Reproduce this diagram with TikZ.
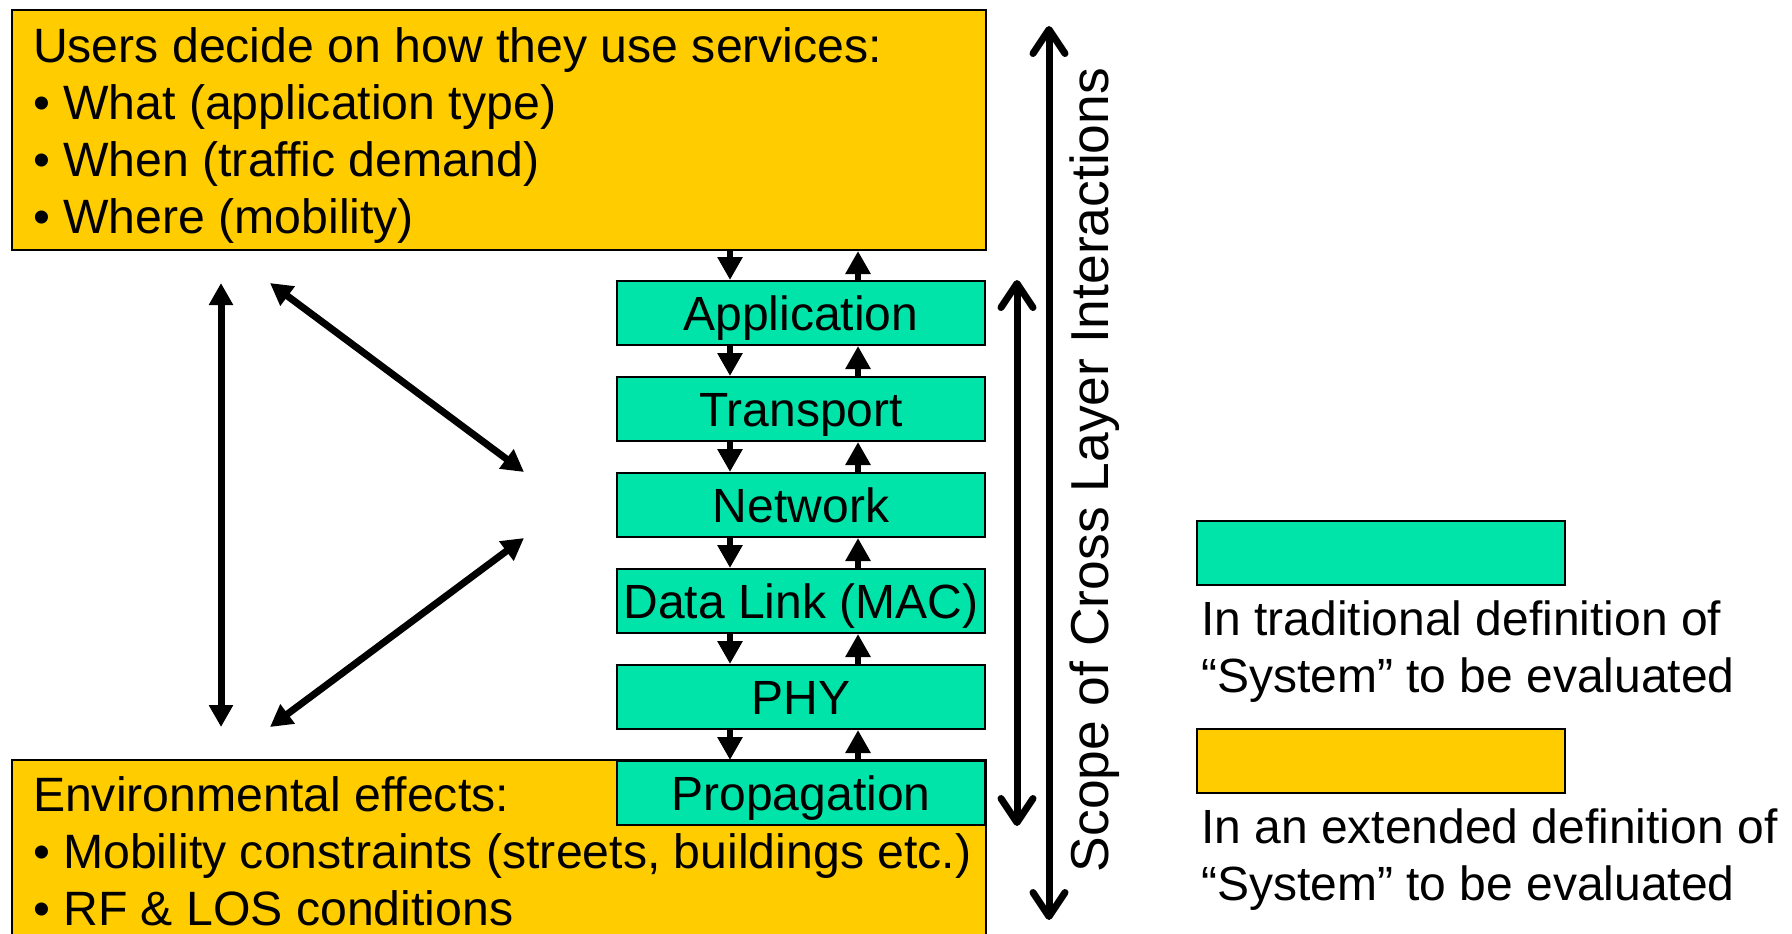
\documentclass[tikz,border=0pt]{standalone}
\usepackage{fontspec}
\setmainfont{Liberation Sans}
\usetikzlibrary{arrows.meta,positioning}
\definecolor{layergreen}{RGB}{0,228,170}
\definecolor{sysyellow}{RGB}{255,204,0}

\begin{document}
\begin{tikzpicture}[x=0.5pt, y=-0.5pt, line width=1pt,
  every node/.style={font=\fontsize{24}{28.5}\selectfont},
  layer/.style={draw, fill=layergreen, minimum width=184pt, minimum height=32pt, inner sep=0pt, text height=17.5pt, text depth=0pt},
  sysbox/.style={draw, fill=sysyellow, anchor=north west, minimum width=487pt, inner sep=0pt},
  systext/.style={anchor=north west, align=left, inner sep=0pt, font=\fontsize{24.1}{28.5}\selectfont},
  flow/.style={line width=3pt, -{Triangle[width=12pt,length=11.5pt]}},
  both/.style={line width=3.5pt, {Triangle[width=11.5pt,length=11pt]}-{Triangle[width=11.5pt,length=11pt]}},
  span/.style={line width=3.5pt, {Straight Barb[round,width=16pt,length=12pt]}-{Straight Barb[round,width=16pt,length=12pt]}}]
\useasboundingbox (0,0) rectangle (1792,933);

% the two yellow boxes
\node[sysbox, minimum height=120pt] (users) at (11,9) {};
\node[systext] (userstext) at ([xshift=10.5pt,yshift=-8.7pt]users.north west) {Users decide on how they use services:\\
  • What (application type)\\
  • When (traffic demand)\\
  • Where (mobility)};
\node[sysbox, minimum height=92pt] (env) at (11,759) {};
\node[systext] (envtext) at ([xshift=10.5pt,yshift=-8.2pt]env.north west) {Environmental effects:\\
  • Mobility constraints (streets, buildings etc.)\\
  • RF \& LOS conditions};

% protocol stack
\node[layer] (app) at (801,313) {Application};
\node[layer, below=15pt of app] (tra) {Transport};
\node[layer, below=15pt of tra] (net) {Network};
\node[layer, below=15pt of net] (dl) {Data Link (MAC)};
\node[layer, below=15pt of dl] (phy) {PHY};
\node[layer, below=15pt of phy] (prop) {Propagation};

\coordinate (dn) at (730,0);
\coordinate (up) at (858,0);
\foreach \hi/\lo in {users/app, app/tra, tra/net, net/dl, dl/phy, phy/prop} {
  \draw[flow] (\hi.south -| dn) -- (\lo.north -| dn);
  \draw[flow] (\lo.north -| up) -- (\hi.south -| up);
}

% interactions on the left
\coordinate (ut) at (221,283);
\coordinate (ub) at (221,727);
\coordinate (dt) at (270,283);
\coordinate (dm) at (524,472);
\coordinate (em) at (524,538);
\coordinate (eb) at (270,727);
\draw[both] (ut) -- (ub);
\draw[both] (dt) -- (dm);
\draw[both] (em) -- (eb);

% scope arrows
\coordinate (ax) at (1017,0);
\coordinate (st) at (1049,26);
\coordinate (sb) at (1049,920);
\draw[span] (app.north -| ax) -- (prop.south -| ax);
\draw[span] (st) -- (sb);
\node[rotate=90, font=\fontsize{26.7}{30}\selectfont] (cross) at (1095,470) {Scope of Cross Layer Interactions};

% legend
\node[layer] (keytrad) at (1381,553) {};
\node[layer, fill=sysyellow] (keyext) at (1381,761) {};
\node[anchor=west, align=left, inner sep=0pt] (trad) at (1200,652) {In traditional definition of\\“System” to be evaluated};
\node[anchor=west, align=left, inner sep=0pt] (ext) at (1200,860) {In an extended definition of\\“System” to be evaluated};
\end{tikzpicture}
\end{document}
